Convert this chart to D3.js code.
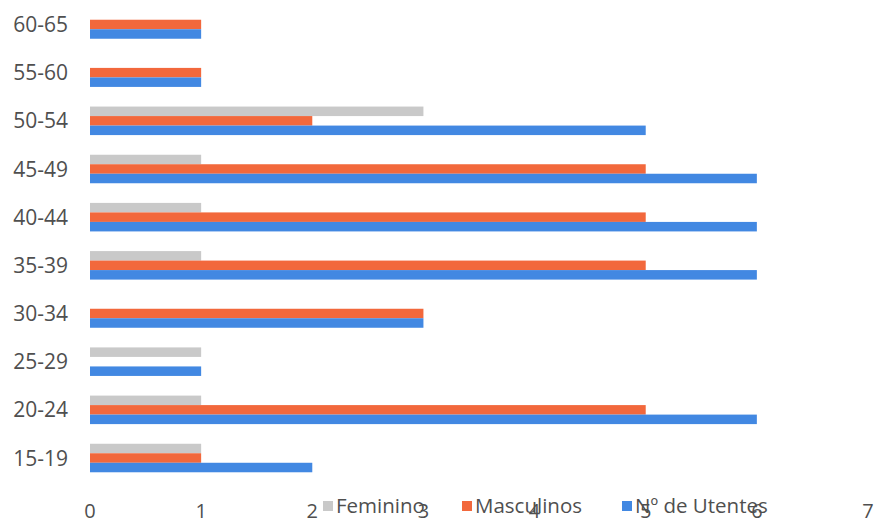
<!DOCTYPE html>
<html>
<head>
<meta charset="utf-8">
<script src="https://cdn.jsdelivr.net/npm/d3@7"></script>
<style>
  html, body { margin: 0; padding: 0; background: #fff; }
  svg { display: block; font-family: "Open Sans", "Liberation Sans", sans-serif; }
</style>
</head>
<body>
<svg id="chart" width="876" height="522"></svg>
<script>
// Age groups, top to bottom
const categories = ["60-65", "55-60", "50-54", "45-49", "40-44", "35-39", "30-34", "25-29", "20-24", "15-19"];
const feminino   = [0, 0, 3, 1, 1, 1, 0, 1, 1, 1];
const masculinos = [1, 1, 2, 5, 5, 5, 3, 0, 5, 1];
const utentes    = [1, 1, 5, 6, 6, 6, 3, 1, 6, 2];
const seriesNames = ["Feminino", "Masculinos", "Nº de Utentes"];
const seriesColors = ["#c9c9c9", "#f2683c", "#4288e2"];
const xTicks = [0, 1, 2, 3, 4, 5, 6, 7];

const series = [feminino, masculinos, utentes];
const rows = categories.map((c, i) => ({ cat: c, vals: series.map(s => s[i]) }));

const svg = d3.select("#chart");
const plotLeft = 90, plotRight = 868, plotTop = 0.4, plotBottom = 482.1;

const x = d3.scaleLinear().domain([0, 7]).range([plotLeft, plotRight]);
const y = d3.scaleBand().domain(categories).range([plotTop, plotBottom])
  .paddingInner(0.408).paddingOuter(0.204);
const ySub = d3.scaleBand().domain(d3.range(series.length)).range([0, y.bandwidth()]);

// Bars
const groups = svg.append("g").selectAll("g")
  .data(rows).join("g")
  .attr("transform", d => `translate(0,${y(d.cat)})`);

groups.selectAll("rect")
  .data(d => d.vals.map((v, k) => ({ v, k })))
  .join("rect")
  .attr("x", x(0))
  .attr("y", d => ySub(d.k))
  .attr("width", d => x(d.v) - x(0))
  .attr("height", ySub.bandwidth())
  .attr("fill", d => seriesColors[d.k]);

// Category labels
svg.append("g").selectAll("text")
  .data(categories).join("text")
  .attr("x", 68)
  .attr("y", d => y(d) + y.bandwidth() / 2)
  .attr("dy", "0.36em")
  .attr("text-anchor", "end")
  .attr("font-size", 21)
  .attr("fill", "#4f4f4f")
  .text(d => d);

// Value axis tick labels
svg.append("g").selectAll("text")
  .data(xTicks).join("text")
  .attr("x", d => x(d))
  .attr("y", 518)
  .attr("text-anchor", "middle")
  .attr("font-size", 20)
  .attr("fill", "#4f4f4f")
  .text(d => d);

// Legend (sits over the axis labels)
const legendX = [323, 462, 622];
const legend = svg.append("g").selectAll("g")
  .data(seriesNames).join("g")
  .attr("transform", (d, i) => `translate(${legendX[i]},506)`);
legend.append("rect")
  .attr("x", 0).attr("y", -5).attr("width", 10).attr("height", 10)
  .attr("fill", (d, i) => seriesColors[i]);
legend.append("text")
  .attr("x", 13).attr("y", 0).attr("dy", "0.33em")
  .attr("font-size", 20.5)
  .attr("fill", "#4f4f4f")
  .text(d => d);
</script>
</body>
</html>
